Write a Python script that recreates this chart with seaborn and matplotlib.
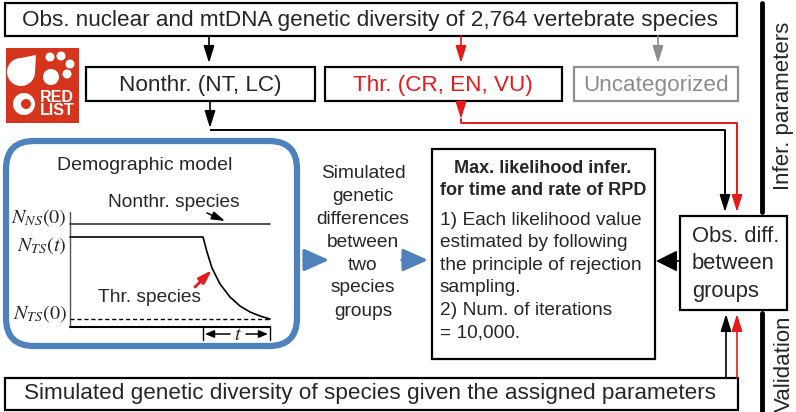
import matplotlib
matplotlib.use("Agg")
import matplotlib.pyplot as plt
import seaborn as sns
import pandas as pd
from matplotlib.patches import Rectangle, FancyBboxPatch, Circle, Polygon

# texts of the flowchart
top_label = "Obs. nuclear and mtDNA genetic diversity of 2,764 vertebrate species"
category_labels = ["Nonthr. (NT, LC)", "Thr. (CR, EN, VU)", "Uncategorized"]
bottom_label = "Simulated genetic diversity of species given the assigned parameters"
sim_lines = ["Simulated", "genetic", "differences", "between", "two", "species", "groups"]
ml_title = ["Max. likelihood infer.", "for time and rate of RPD"]
ml_body = ["1) Each likelihood value", "estimated by following",
           "the principle of rejection", "sampling.", "2) Num. of iterations", "= 10,000."]
obs_diff_lines = ["Obs. diff.", "between", "groups"]
side_labels = ["Infer. parameters", "Validation"]
model_title = "Demographic model"
species_labels = ["Nonthr. species", "Thr. species"]
size_labels = [r"$N_{NS}(0)$", r"$N_{TS}(t)$", r"$N_{TS}(0)$"]

# demographic curves (pixel positions)
ns_x = [70, 270]
ns_y = [224, 224]
ts_x = [70, 203, 207, 212, 220, 230, 240, 250, 260, 270]
ts_y = [237, 237, 252, 268, 284, 297, 306, 312, 316, 319]

sns.set_theme(style="white")
plt.rcParams['font.family'] = ['Liberation Sans', 'DejaVu Sans']
plt.rcParams['mathtext.fontset'] = 'stix'

RED = '#E41A1C'
GREY = '#8C8C8C'
BLUE = '#4F81BD'
BIG = 16.2

fig = plt.figure(figsize=(7.96, 4.12), dpi=100)
ax = fig.add_axes([0, 0, 1, 1])
ax.set_xlim(0, 796)
ax.set_ylim(412, 0)
ax.axis('off')


def box(x0, y0, x1, y1, ec='black', lw=1.6):
    ax.add_patch(Rectangle((x0, y0), x1 - x0, y1 - y0, fill=False, ec=ec, lw=lw))


def arrow(x0, y0, x1, y1, color='black', lw=1.2, ms=13, style='-|>,head_length=0.8,head_width=0.25'):
    ax.annotate('', xy=(x1, y1), xytext=(x0, y0),
                arrowprops=dict(arrowstyle=style, color=color, lw=lw,
                                mutation_scale=ms, shrinkA=0, shrinkB=0))


# top box
box(5, 3, 737, 36)
ax.text(370, 20, top_label, ha='center', va='center', fontsize=BIG)

# arrows to categories
arrow(209, 36, 209, 63)
arrow(461, 36, 461, 63, color=RED)
arrow(658, 36, 658, 63, color=GREY)

# category boxes
box(86, 67, 315, 101)
box(325, 67, 562, 101)
box(574, 67, 738, 101, ec=GREY)
ax.text(200, 85, category_labels[0], ha='center', va='center', fontsize=BIG)
ax.text(443, 85, category_labels[1], ha='center', va='center', fontsize=BIG, color=RED)
ax.text(656, 85, category_labels[2], ha='center', va='center', fontsize=BIG, color=GREY)

# red list logo
LOGO = '#D4351C'
ax.add_patch(Rectangle((6, 48), 73, 75, color=LOGO, lw=0))
ax.add_patch(Circle((21, 72), 14, color='white', lw=0))
ax.add_patch(Polygon([[21, 58], [36, 55], [35, 72]], closed=True, color='white', lw=0))
ax.add_patch(Circle((51, 77), 8, color='white', lw=0))
for cx, cy in [(50, 57), (61, 56), (70, 64), (67, 74)]:
    ax.add_patch(Circle((cx, cy), 4.5, color='white', lw=0))
ax.add_patch(Circle((24, 104), 11, color='white', lw=0))
ax.add_patch(Circle((26, 104), 5, color=LOGO, lw=0))
ax.text(57, 104, "RED\nLIST", ha='center', va='center', fontsize=11.5,
        fontweight='bold', color='white', linespacing=0.85)

# connector lines to obs diff box
arrow(210, 101, 210, 128)
ax.plot([210, 725, 725], [130, 130, 198], color='black', lw=1.4, solid_capstyle='butt')
arrow(725, 196, 725, 212)
arrow(461, 101, 461, 119, color=RED)
ax.plot([461, 461, 737, 737], [119, 123, 123, 198], color=RED, lw=1.4)
arrow(737, 196, 737, 212, color=RED)

# side labels
ax.plot([762, 762], [3, 212], color='black', lw=3.5)
ax.plot([762, 762], [313, 412], color='black', lw=3.5)
ax.text(784, 106, side_labels[0], rotation=90, ha='center', va='center', fontsize=16)
ax.text(784, 364, side_labels[1], rotation=90, ha='center', va='center', fontsize=16)

# obs diff box
box(680, 216, 787, 310)
for i, s in enumerate(obs_diff_lines):
    ax.text(692, 236 + i * 27.5, s, ha='left', va='center', fontsize=15.8)
arrow(680, 261, 656, 261, lw=1.2, ms=22, style='-|>,head_length=0.6,head_width=0.3')

# bottom box and validation arrows
box(5, 378, 738, 410)
ax.text(370, 394, bottom_label, ha='center', va='center', fontsize=BIG)
arrow(726, 378, 726, 314)
arrow(737, 378, 737, 314, color=RED)

# max likelihood box
box(432, 149, 655, 359)
for i, s in enumerate(ml_title):
    ax.text(543, 168 + i * 22, s, ha='center', va='center', fontsize=13, fontweight='bold')
for i, s in enumerate(ml_body):
    ax.text(440, 220 + i * 22.6, s, ha='left', va='center', fontsize=13.8)

# simulated differences text and blue arrows
for i, s in enumerate(sim_lines):
    ax.text(363, 173 + i * 23, s, ha='center', va='center', fontsize=13.8)
arrow(304, 260, 329, 260, color=BLUE, lw=2.4, ms=15, style='-|>,head_length=1.0,head_width=0.45')
arrow(402, 260, 428, 260, color=BLUE, lw=2.4, ms=15, style='-|>,head_length=1.0,head_width=0.45')

# demographic model box
ax.add_patch(FancyBboxPatch((6, 141), 291, 205, boxstyle='round,pad=0,rounding_size=28',
                            fill=False, ec=BLUE, lw=4.5))
ax.text(145, 165, model_title, ha='center', va='center', fontsize=14)

# axes of the model
ax.plot([70, 70], [212, 327], color='#555555', lw=1.0)
ax.plot([70, 270], [327, 327], color='black', lw=1.5)
curves = pd.DataFrame({'x': ns_x + ts_x,
                       'y': ns_y + ts_y,
                       'group': ['NS'] * len(ns_x) + ['TS'] * len(ts_x)})
sns.lineplot(data=curves, x='x', y='y', hue='group', palette=['#333333', 'black'],
             sort=False, estimator=None, legend=False, lw=1.2, ax=ax)
ax.plot([70, 270], [319, 319], color='black', lw=1.0, ls=(0, (3, 2)))
ax.set_xlabel('')
ax.set_ylabel('')
ax.set_xlim(0, 796)
ax.set_ylim(412, 0)

ax.text(67, 218, size_labels[0], ha='right', va='center', fontsize=14.5)
ax.text(67, 246, size_labels[1], ha='right', va='center', fontsize=14.5)
ax.text(67, 314, size_labels[2], ha='right', va='center', fontsize=14.5)

ax.text(174, 202, species_labels[0], ha='center', va='center', fontsize=13.8)
arrow(207, 213, 225, 221, lw=1.1, ms=10)
ax.text(150, 298, species_labels[1], ha='center', va='center', fontsize=13.8)
arrow(195, 287, 212, 270, color=RED, lw=2, ms=10)

# t span
ax.plot([203, 203], [326, 340], color='black', lw=1.0)
ax.plot([270, 270], [326, 340], color='black', lw=1.0)
arrow(230, 334, 205, 334, lw=1.1, ms=9, style='-|>,head_length=0.6,head_width=0.25')
arrow(246, 334, 268, 334, lw=1.1, ms=9, style='-|>,head_length=0.6,head_width=0.25')
ax.text(238, 334, r"$t$", ha='center', va='center', fontsize=14.5)

fig.savefig('out.png', dpi=100)
